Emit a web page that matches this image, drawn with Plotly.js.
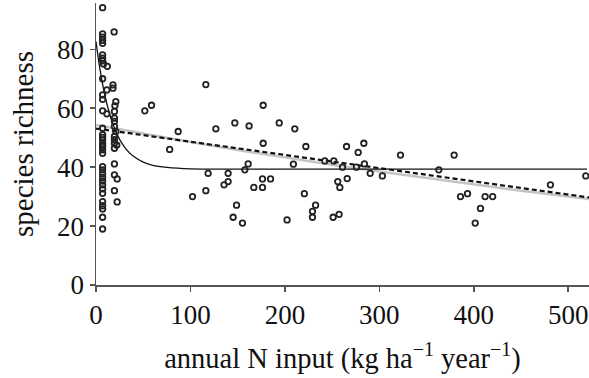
<!DOCTYPE html>
<html>
<head>
<meta charset="utf-8">
<script src="https://cdn.plot.ly/plotly-3.0.1.min.js"></script>
<style>html,body{margin:0;padding:0;background:#fff;}#chart{width:589px;height:378px;}</style>
</head>
<body>
<div id="chart"></div>
<script>
// observed sites: annual N input (kg/ha/yr) and species richness
const siteN = [
  7,7,7,7,7,7,7,7,7,7,7,7,7,7,7,7,7,7,7,7,7,7,7,7,7,7,7,7,7,7,7,7,7,
  8,12,11.5,11.5,
  19.2,18,18,21,20,19.5,19.5,19.5,19.5,21,19.5,19.5,19.5,22,19.5,19.5,19.5,22.4,19.5,22.4,
  51.7,58.8,78,87,102.2,116.3,116.3,118.7,126.9,135.6,139.9,139.9,145.2,147,148.8,155.1,
  157.6,161.1,162.1,167.1,176.3,176.3,177,177,184.8,194,202.3,209,210.5,220.6,222.2,
  229.2,229.2,232.5,242.3,251.8,251.1,256,257.4,258.2,261,265.3,266,275.8,277.6,283.6,
  284.2,290.3,303.2,322.4,363,379.2,385.9,393.4,401.5,407.1,412,420,481.2,518.6
];
const siteRichness = [
  94.1,85.2,84.1,83.0,82.0,78.1,77.0,76.1,70.0,64.5,63.0,59.1,53.2,51.0,50.1,47.0,45.9,44.7,
  40.2,39.1,37.8,36.5,35.3,34.0,32.6,31.1,28.3,26.9,25.8,23.0,19.0,49.2,48.0,
  75.0,74.2,66.2,58.1,
  85.9,67.9,66.8,62.2,60.8,58.9,56.6,55.5,53.8,52.1,50.4,49.3,48.1,47.5,46.4,41.1,37.4,36.0,32.0,28.2,
  59.1,61.0,46.0,52.1,30.0,68.0,32.0,37.9,53.0,34.0,37.9,35.1,23.0,55.0,27.1,21.0,
  39.1,41.1,54.0,33.1,36.0,33.1,61.0,48.1,36.0,55.0,22.1,41.0,53.0,31.0,47.0,
  25.0,23.0,27.1,42.1,42.1,23.0,35.1,24.0,33.1,40.0,47.0,36.1,40.0,45.0,48.1,
  41.1,37.9,37.0,44.1,39.1,44.1,30.0,31.0,21.0,26.0,30.0,30.0,34.0,37.0
];

// fitted curves
const expFitN = [0, 2, 4, 6, 8, 10, 13, 16, 20, 25, 30, 35, 40, 50, 60, 75, 100, 150, 520];
const expFitRichness = [82.6, 77.9, 73.6, 69.9, 66.5, 63.5, 59.7, 56.4, 52.9, 49.4, 46.9, 45.0, 43.6, 41.7, 40.6, 39.9, 39.4, 39.3, 39.3];

const grayFitN = [0, 50, 100, 150, 200, 250, 300, 350, 400, 450, 522];
const grayFitRichness = [54.3, 51.3, 48.5, 45.8, 43.2, 40.8, 38.5, 36.3, 34.2, 32.0, 29.2];

const linFitN = [0, 522];
const linFitRichness = [53.1, 29.7];

const xTicks = [0, 100, 200, 300, 400, 500];
const yTicks = [0, 20, 40, 60, 80];

const serif = '"Liberation Serif", "Times New Roman", serif';

const traces = [
  {x: grayFitN, y: grayFitRichness, mode: 'lines', line: {color: '#c4c4c4', width: 2.5}, hoverinfo: 'skip'},
  {x: linFitN, y: linFitRichness, mode: 'lines', line: {color: '#111', width: 2.2, dash: '5px,3px'}, hoverinfo: 'skip'},
  {x: expFitN, y: expFitRichness, mode: 'lines', line: {color: '#111', width: 1.3, shape: 'spline'}, hoverinfo: 'skip'},
  {x: siteN, y: siteRichness, mode: 'markers', cliponaxis: false,
   marker: {symbol: 'circle-open', size: 5.5, color: '#222', line: {width: 1.8, color: '#222'}}}
];

const layout = {
  width: 589, height: 378,
  margin: {l: 96, r: 0, t: 3, b: 93},
  paper_bgcolor: '#fff', plot_bgcolor: '#fff',
  showlegend: false,
  font: {family: serif, color: '#111', size: 27},
  xaxis: {
    range: [0, 522], tickvals: xTicks, ticktext: xTicks.map(String),
    showgrid: false, zeroline: false, showline: true, linecolor: '#555', linewidth: 1.5,
    ticks: 'outside', ticklen: 5, tickwidth: 1.5, tickcolor: '#555',
    tickfont: {family: serif, size: 27, color: '#111'},
    title: {text: 'annual N input (kg ha<sup>−1</sup> year<sup>−1</sup>)', font: {family: serif, size: 28.5, color: '#111'}, standoff: 19},
    automargin: false
  },
  yaxis: {
    range: [0, 95.7], tickvals: yTicks, ticktext: yTicks.map(String),
    showgrid: false, zeroline: false, showline: true, linecolor: '#555', linewidth: 1.5,
    ticks: 'outside', ticklen: 5, tickwidth: 1.5, tickcolor: '#555',
    tickfont: {family: serif, size: 27, color: '#111'},
    title: {text: 'species richness', font: {family: serif, size: 29, color: '#111'}, standoff: 15},
    automargin: false
  }
};

Plotly.newPlot('chart', traces, layout, {staticPlot: true, displayModeBar: false});
</script>
</body>
</html>
